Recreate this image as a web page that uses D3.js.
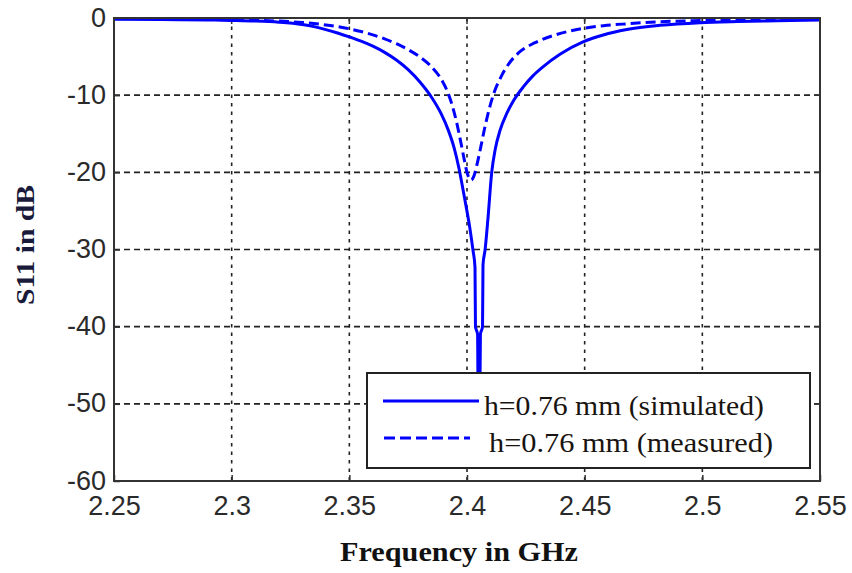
<!DOCTYPE html>
<html>
<head>
<meta charset="utf-8">
<script src="https://cdn.jsdelivr.net/npm/d3@7/dist/d3.min.js"></script>
<style>
  html, body { margin: 0; padding: 0; background: #fff; }
  svg { display: block; }
</style>
</head>
<body>
<svg id="chart" width="852" height="573"></svg>
<script>
// ---------- data ----------
const xTicks = [2.25, 2.3, 2.35, 2.4, 2.45, 2.5, 2.55];
const xTickLabels = ["2.25", "2.3", "2.35", "2.4", "2.45", "2.5", "2.55"];
const yTicks = [0, -10, -20, -30, -40, -50, -60];
const yTickLabels = ["0", "-10", "-20", "-30", "-40", "-50", "-60"];

const seriesNames = ["h=0.76 mm (simulated)", "h=0.76 mm (measured)"];

const simFreq = [2.25, 2.27, 2.29, 2.30, 2.31, 2.32, 2.33, 2.335, 2.34, 2.345, 2.35, 2.355, 2.36, 2.365,
  2.37, 2.375, 2.38, 2.385, 2.389, 2.392, 2.3945, 2.3966, 2.399, 2.4012, 2.4025, 2.4034, 2.4036,
  2.4045, 2.4047, 2.4055, 2.4057, 2.4066, 2.4068, 2.4077, 2.4089, 2.4105, 2.412, 2.414, 2.417,
  2.42, 2.424, 2.428, 2.432, 2.4395, 2.4493, 2.4579, 2.4679, 2.482, 2.499, 2.515, 2.5316, 2.55];
const simS11 = [-0.15, -0.2, -0.26, -0.32, -0.4, -0.55, -0.85, -1.12, -1.5, -1.95, -2.45, -3.0, -3.65, -4.45,
  -5.45, -6.7, -8.3, -10.3, -12.4, -14.5, -16.8, -19.5, -23.4, -27.2, -30.0, -32.3, -40.0,
  -41.0, -48.0, -48.0, -41.0, -40.0, -32.0, -30.0, -26.0, -20.0, -17.0, -14.6, -12.3,
  -10.6, -8.9, -7.5, -6.4, -4.7, -3.1, -2.2, -1.5, -0.95, -0.6, -0.45, -0.35, -0.25];

const measFreq = [2.25, 2.27, 2.29, 2.31, 2.32, 2.33, 2.34, 2.345, 2.35, 2.355, 2.36, 2.365, 2.37, 2.375,
  2.38, 2.384, 2.387, 2.3895, 2.3915, 2.3935, 2.3955, 2.3975, 2.399, 2.4, 2.401, 2.4018, 2.4028,
  2.404, 2.4058, 2.4077, 2.4096, 2.4116, 2.4145, 2.4176, 2.422, 2.4289, 2.438, 2.4493, 2.458,
  2.468, 2.48, 2.50, 2.52, 2.55];
const measS11 = [-0.05, -0.1, -0.18, -0.3, -0.4, -0.58, -0.9, -1.12, -1.4, -1.75, -2.18, -2.7, -3.33, -4.1,
  -5.05, -6.05, -7.05, -8.15, -9.4, -11.1, -13.4, -16.3, -18.6, -20.0, -20.8, -21.0, -20.6,
  -19.3, -16.8, -14.0, -11.6, -9.6, -7.6, -6.0, -4.5, -3.2, -2.15, -1.35, -1.0,
  -0.75, -0.52, -0.32, -0.2, -0.12];

// ---------- layout ----------
const svg = d3.select("#chart");
const margin = { left: 114, right: 32, top: 18, bottom: 92 };
const W = 852, H = 573;
const x = d3.scaleLinear().domain([2.25, 2.55]).range([margin.left, W - margin.right]);
const y = d3.scaleLinear().domain([-60, 0]).range([H - margin.bottom, margin.top]);

const axisColor = "#333";
const blue = "#0000ff";

// clip
svg.append("defs").append("clipPath").attr("id", "clip")
  .append("rect").attr("x", x(2.25)).attr("y", y(0) - 3)
  .attr("width", x(2.55) - x(2.25)).attr("height", y(-60) - y(0) + 3);

// grid
const grid = svg.append("g");
grid.selectAll("line.v").data(xTicks.slice(1, -1)).join("line")
  .attr("x1", d => x(d)).attr("x2", d => x(d))
  .attr("y1", y(0)).attr("y2", y(-60))
  .attr("stroke", "#222").attr("stroke-width", 1.6).attr("stroke-dasharray", "3.5,5");
grid.selectAll("line.h").data(yTicks.slice(1, -1)).join("line")
  .attr("x1", x(2.25)).attr("x2", x(2.55))
  .attr("y1", d => y(d)).attr("y2", d => y(d))
  .attr("stroke", "#222").attr("stroke-width", 1.6).attr("stroke-dasharray", "6,4");

// axes (ticks inward)
const fontTick = "'Liberation Sans', Arial, sans-serif";
const xAxis = d3.axisBottom(x).tickValues(xTicks).tickSize(-6).tickPadding(15)
  .tickFormat((d, i) => xTickLabels[i]);
const yAxis = d3.axisLeft(y).tickValues(yTicks).tickSize(-6).tickPadding(8)
  .tickFormat((d, i) => yTickLabels[i]);

const gx = svg.append("g").attr("transform", `translate(0,${y(-60)})`).call(xAxis);
const gy = svg.append("g").attr("transform", `translate(${x(2.25)},0)`).call(yAxis);
[gx, gy].forEach(g => {
  g.select(".domain").remove();
  g.selectAll(".tick line").attr("stroke", axisColor).attr("stroke-width", 1.5);
  g.selectAll(".tick text").attr("fill", "#2a2a2a")
    .style("font-family", fontTick).style("font-size", "27px");
});
gx.selectAll(".tick text").attr("dy", "0.71em");
gy.selectAll(".tick text").attr("dy", "0.3em");
// top and right ticks
svg.append("g").selectAll("line").data(xTicks.slice(1, -1)).join("line")
  .attr("x1", d => x(d)).attr("x2", d => x(d)).attr("y1", y(0)).attr("y2", y(0) + 6)
  .attr("stroke", axisColor).attr("stroke-width", 1.5);
svg.append("g").selectAll("line").data(yTicks.slice(1, -1)).join("line")
  .attr("x1", x(2.55)).attr("x2", x(2.55) - 6).attr("y1", d => y(d)).attr("y2", d => y(d))
  .attr("stroke", axisColor).attr("stroke-width", 1.5);

// curves
const line = d3.line().x(d => x(d[0])).y(d => y(d[1])).curve(d3.curveMonotoneX);
const simData = simFreq.map((f, i) => [f, simS11[i]]);
const measData = measFreq.map((f, i) => [f, measS11[i]]);
const curves = svg.append("g").attr("clip-path", "url(#clip)");
curves.append("path").datum(measData).attr("d", line)
  .attr("fill", "none").attr("stroke", blue).attr("stroke-width", 3)
  .attr("stroke-dasharray", "10,5");
curves.append("path").datum(simData).attr("d", line)
  .attr("fill", "none").attr("stroke", blue).attr("stroke-width", 3);

// box
svg.append("rect").attr("x", x(2.25)).attr("y", y(0))
  .attr("width", x(2.55) - x(2.25)).attr("height", y(-60) - y(0))
  .attr("fill", "none").attr("stroke", axisColor).attr("stroke-width", 2);

// legend
const serif = "'Liberation Serif', 'Times New Roman', serif";
const lg = svg.append("g");
lg.append("rect").attr("x", 367).attr("y", 373).attr("width", 443).attr("height", 95)
  .attr("fill", "#fff").attr("stroke", "#222").attr("stroke-width", 2);
lg.append("line").attr("x1", 383).attr("x2", 479).attr("y1", 401).attr("y2", 401)
  .attr("stroke", blue).attr("stroke-width", 3);
lg.append("line").attr("x1", 384).attr("x2", 470).attr("y1", 438).attr("y2", 438)
  .attr("stroke", blue).attr("stroke-width", 3).attr("stroke-dasharray", "11,5");
lg.append("text").attr("x", 484).attr("y", 415).text(seriesNames[0])
  .attr("textLength", 280).attr("lengthAdjust", "spacingAndGlyphs")
  .attr("fill", "#1a1410").style("font-family", serif).style("font-size", "28px");
lg.append("text").attr("x", 489).attr("y", 452).text(seriesNames[1])
  .attr("textLength", 284).attr("lengthAdjust", "spacingAndGlyphs")
  .attr("fill", "#1a1410").style("font-family", serif).style("font-size", "28px");

// axis titles
svg.append("text").attr("x", 340).attr("y", 561)
  .attr("textLength", 238).attr("lengthAdjust", "spacingAndGlyphs")
  .text("Frequency in GHz").attr("fill", "#111")
  .style("font-family", serif).style("font-weight", "bold").style("font-size", "27px");
svg.append("text").attr("transform", "translate(34,305) rotate(-90)")
  .attr("textLength", 120).attr("lengthAdjust", "spacingAndGlyphs")
  .text("S11 in dB").attr("fill", "#1a1a3a")
  .style("font-family", serif).style("font-weight", "bold").style("font-size", "26px");
</script>
</body>
</html>
